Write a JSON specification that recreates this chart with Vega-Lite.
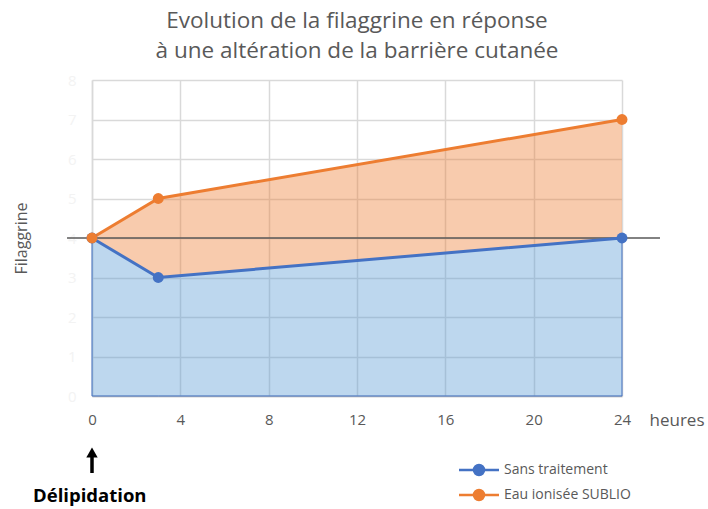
{
  "$schema": "https://vega.github.io/schema/vega-lite/v6.json",
  "width": 530,
  "height": 316,
  "autosize": {"type": "none"},
  "padding": {"left": 92, "top": 80, "right": 86, "bottom": 113},
  "background": "white",
  "config": {"font": "Open Sans", "view": {"stroke": null}},
  "title": {
    "text": ["Evolution de la filaggrine en réponse", "à une altération de la barrière cutanée"],
    "fontSize": 22.5,
    "fontWeight": "normal",
    "color": "#595959",
    "lineHeight": 30,
    "offset": 11,
    "anchor": "middle",
    "font": "Open Sans"
  },
  "data": {
    "values": [
      {"heures": 0, "Sans traitement": 4, "Eau ionisée SUBLIO": 4},
      {"heures": 3, "Sans traitement": 3, "Eau ionisée SUBLIO": 5},
      {"heures": 24, "Sans traitement": 4, "Eau ionisée SUBLIO": 7}
    ]
  },
  "resolve": {"axis": {"y": "independent"}},
  "encoding": {
    "x": {
      "field": "heures",
      "type": "quantitative",
      "scale": {"domain": [0, 24], "nice": false},
      "axis": {
        "values": [0, 4, 8, 12, 16, 20, 24],
        "title": null,
        "grid": true,
        "gridColor": "#d9d9d9",
        "gridWidth": 1.5,
        "domainColor": "#bfbfbf",
        "domainWidth": 1.5,
        "ticks": false,
        "labelFlush": false,
        "labelFontSize": 15,
        "labelColor": "#595959",
        "labelPadding": 16,
        "labelFont": "Open Sans"
      }
    }
  },
  "layer": [
    {
      "mark": {"type": "area", "color": "#ed7d31", "fillOpacity": 0.4},
      "encoding": {
        "y": {
          "field": "Eau ionisée SUBLIO",
          "type": "quantitative",
          "scale": {"domain": [0, 8], "nice": false},
          "axis": {
            "values": [0, 1, 2, 3, 4, 5, 6, 7, 8],
            "labelOverlap": false,
            "title": "Filaggrine",
            "titleFontSize": 16,
            "titleFontWeight": "normal",
            "titleColor": "#595959",
            "titlePadding": 38,
            "titleFont": "Open Sans",
            "grid": true,
            "gridColor": "#d9d9d9",
            "gridWidth": 1.5,
            "domain": true,
            "domainColor": "#d9d9d9",
            "domainWidth": 1.5,
            "ticks": false,
            "labelFontSize": 15,
            "labelColor": "#f3f3f3",
            "labelPadding": 16,
            "labelFlush": false
          }
        },
        "y2": {"field": "Sans traitement"}
      }
    },
    {
      "mark": {"type": "area", "color": "#5b9bd5", "fillOpacity": 0.4, "stroke": "#4472c4", "strokeWidth": 1},
      "encoding": {
        "y": {"field": "Sans traitement", "type": "quantitative", "axis": null},
        "y2": {"datum": 0}
      }
    },
    {
      "transform": [{"filter": "datum.heures == 0"}],
      "mark": {"type": "rule", "color": "#595959", "strokeWidth": 1.5},
      "encoding": {
        "x": {"datum": -1.13},
        "x2": {"datum": 25.72},
        "y": {"datum": 4, "axis": null}
      }
    },
    {
      "transform": [{"fold": ["Sans traitement", "Eau ionisée SUBLIO"], "as": ["serie", "valeur"]}],
      "mark": {"type": "line", "strokeWidth": 3, "point": {"filled": true, "size": 120, "opacity": 1}},
      "encoding": {
        "y": {"field": "valeur", "type": "quantitative", "axis": null},
        "color": {
          "field": "serie",
          "type": "nominal",
          "scale": {"domain": ["Sans traitement", "Eau ionisée SUBLIO"], "range": ["#4472c4", "#ed7d31"]},
          "legend": {
            "title": null,
            "orient": "none",
            "legendX": 380,
            "legendY": 383,
            "padding": 0,
            "symbolType": "M-4,0H4M-1,0A1,1,0,1,1,1,0A1,1,0,1,1,-1,0Z",
            "symbolSize": 100,
            "symbolStrokeWidth": 2.5,
            "labelFontSize": 14,
            "labelColor": "#595959",
            "labelFont": "Open Sans",
            "labelOffset": 18,
            "rowPadding": 5
          }
        }
      }
    },
    {
      "transform": [{"filter": "datum.heures == 0"}],
      "mark": {"type": "text", "fontSize": 17, "fontWeight": "normal", "color": "#595959", "font": "Open Sans"},
      "encoding": {
        "x": {"datum": 26.49},
        "y": {"datum": -0.63, "axis": null},
        "text": {"value": "heures"}
      }
    },
    {
      "transform": [{"filter": "datum.heures == 0"}],
      "mark": {"type": "rule", "color": "black", "strokeWidth": 3.5},
      "encoding": {
        "x": {"datum": 0},
        "y": {"datum": -1.5, "axis": null},
        "y2": {"datum": -1.95}
      }
    },
    {
      "transform": [{"filter": "datum.heures == 0"}],
      "mark": {"type": "point", "shape": "triangle-up", "filled": true, "color": "black", "size": 130, "opacity": 1},
      "encoding": {
        "x": {"datum": 0},
        "y": {"datum": -1.43, "axis": null}
      }
    },
    {
      "transform": [{"filter": "datum.heures == 0"}],
      "mark": {"type": "text", "fontSize": 18.5, "fontWeight": "bold", "color": "black", "font": "Open Sans"},
      "encoding": {
        "x": {"datum": -0.1},
        "y": {"datum": -2.53, "axis": null},
        "text": {"value": "Délipidation"}
      }
    }
  ]
}
